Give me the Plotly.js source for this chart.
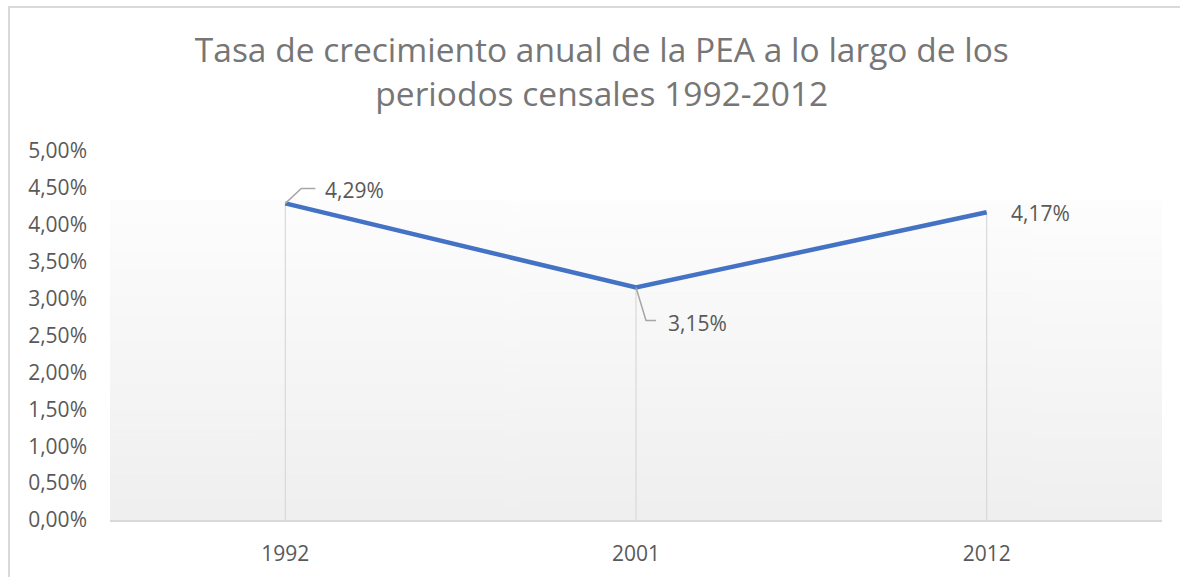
<!DOCTYPE html>
<html>
<head>
<meta charset="utf-8">
<script src="https://cdn.plot.ly/plotly-3.0.1.min.js"></script>
<style>
  html, body { margin: 0; padding: 0; background: #ffffff; overflow: hidden; }
  #wrap { position: relative; width: 1180px; height: 577px; overflow: hidden; }
  #chart { position: absolute; left: 0; top: 0; width: 1180px; height: 577px; }
  #frame { position: absolute; left: 8px; top: 6px; width: 1200px; height: 600px;
           border-left: 2px solid #d9d9d9; border-top: 2px solid #d9d9d9; pointer-events: none; }
</style>
</head>
<body>
<div id="wrap">
  <div id="chart"></div>
  <div id="frame"></div>
</div>
<script>
// ---- data ----
const categories = ['1992', '2001', '2012'];
const rates = [0.0429, 0.0315, 0.0417];
const titleText = 'Tasa de crecimiento anual de la PEA a lo largo de los<br>periodos censales 1992-2012';

// ---- styles ----
const FONT = 'Open Sans, sans-serif';
const TXT = '#595959';
const GRID = '#d9d9d9';

function gradientURL() {
  const c = document.createElement('canvas');
  c.width = 4; c.height = 256;
  const g = c.getContext('2d');
  const gr = g.createLinearGradient(0, 0, 0, 256);
  gr.addColorStop(0, '#fdfdfd');
  gr.addColorStop(1, '#efefef');
  g.fillStyle = gr;
  g.fillRect(0, 0, 4, 256);
  return c.toDataURL();
}

// drop lines from each point to the axis
const dropShapes = categories.map((c, i) => ({
  type: 'line', xref: 'x', yref: 'y', layer: 'below',
  x0: i, x1: i, y0: 0, y1: rates[i],
  line: { color: GRID, width: 1.2 }
}));

// leader lines (pixel paths anchored at data points)
const leaderPaths = ['M0,0 L16,15 L30,15', 'M0,0 L10,-33 L20,-33', null];
const leaderShapes = [];
leaderPaths.forEach((p, i) => {
  if (!p) return;
  leaderShapes.push({
    type: 'path', xref: 'x', yref: 'y', xsizemode: 'pixel', ysizemode: 'pixel',
    xanchor: i, yanchor: rates[i], path: p,
    line: { color: '#a6a6a6', width: 1.5 }
  });
});

const labelShift = [[38, 13], [30, -35], [22, -1]];
const annotations = categories.map((c, i) => ({
  x: i, y: rates[i], xref: 'x', yref: 'y',
  text: (rates[i] * 100).toFixed(2).replace('.', ',') + '%',
  showarrow: false, xanchor: 'left', yanchor: 'middle',
  xshift: labelShift[i][0], yshift: labelShift[i][1],
  font: { family: FONT, size: 21, color: TXT }
}));

const trace = {
  x: categories, y: rates, type: 'scatter', mode: 'lines',
  line: { color: '#4472c4', width: 4.5 },
  hoverinfo: 'skip'
};

const layout = {
  width: 1180, height: 577,
  margin: { l: 110, r: 18, t: 151, b: 57 },
  paper_bgcolor: 'rgba(0,0,0,0)',
  plot_bgcolor: 'rgba(0,0,0,0)',
  separators: ',.',
  showlegend: false,
  title: {
    text: titleText,
    font: { family: FONT, size: 33.5, color: '#767676' },
    x: 0.51, xanchor: 'center', xref: 'container',
    y: 0.892, yanchor: 'middle', yref: 'container'
  },
  xaxis: {
    type: 'category', range: [-0.5, 2.5], fixedrange: true,
    showgrid: false, zeroline: false,
    showline: true, linecolor: GRID, linewidth: 2,
    ticks: '', ticklabelstandoff: 14,
    tickfont: { family: FONT, size: 21, color: TXT }
  },
  yaxis: {
    range: [0, 0.05], dtick: 0.005, tick0: 0, tickformat: '.2%',
    showgrid: false, zeroline: false, showline: false, fixedrange: true,
    ticks: '', ticklabelstandoff: 22,
    tickfont: { family: FONT, size: 21, color: TXT }
  },
  images: [{
    source: gradientURL(), xref: 'paper', yref: 'paper',
    x: 0, y: 0.866, sizex: 1, sizey: 0.866,
    xanchor: 'left', yanchor: 'top', sizing: 'stretch', layer: 'below'
  }],
  shapes: dropShapes.concat(leaderShapes),
  annotations: annotations
};

Plotly.newPlot('chart', [trace], layout, { displayModeBar: false, staticPlot: true });
</script>
</body>
</html>
